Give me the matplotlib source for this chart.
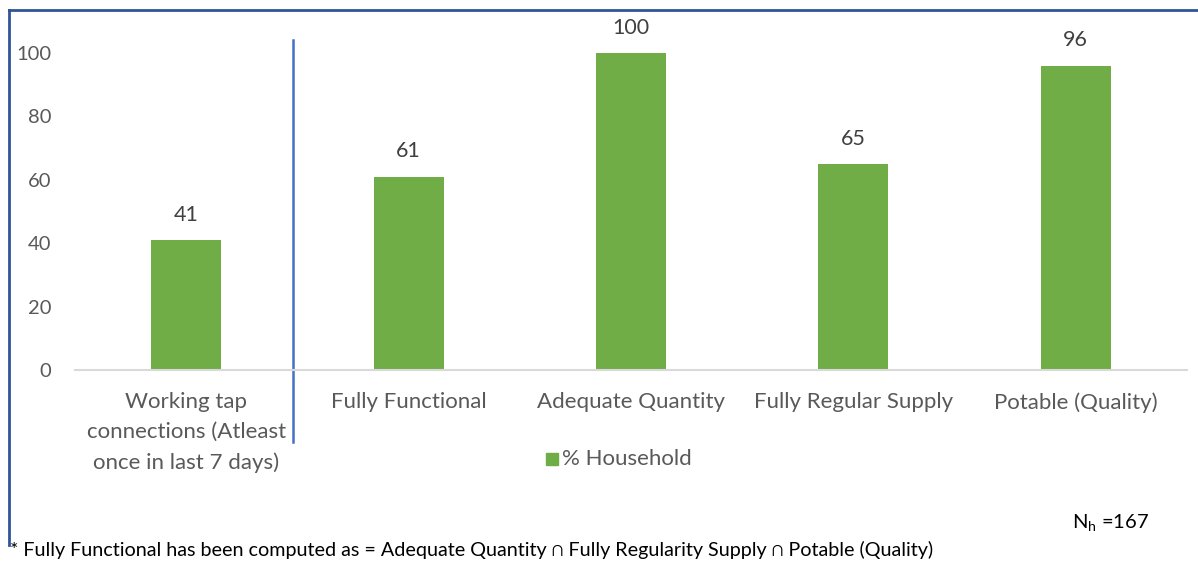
import matplotlib
matplotlib.use("Agg")
import matplotlib.pyplot as plt
from matplotlib.lines import Line2D
from matplotlib.patches import Rectangle

categories = ["Working tap\nconnections (Atleast\nonce in last 7 days)",
              "Fully Functional", "Adequate Quantity",
              "Fully Regular Supply", "Potable (Quality)"]
values = [41, 61, 100, 65, 96]
yticks = [0, 20, 40, 60, 80, 100]
series_name = "% Household"
footnote = "* Fully Functional has been computed as = Adequate Quantity \u2229 Fully Regularity Supply \u2229 Potable (Quality)"
n_label = r"N$_\mathregular{h}$ =167"

plt.rcParams['font.family'] = ['Lato', 'DejaVu Sans']
W, H = 1198, 561
fig = plt.figure(figsize=(W/100, H/100), dpi=100)
ax = fig.add_axes([75/W, 1-370/H, (1187-75)/W, (370-53)/H])

green = "#70AD47"
x = list(range(len(values)))
ax.bar(x, values, width=0.315, color=green)
ax.set_xlim(-0.5, len(values)-0.5)
ax.set_ylim(0, 100)
ax.set_yticks(yticks)
ax.set_yticklabels([str(t) for t in yticks], fontsize=14.5, color="#595959")
ax.set_xticks(x)
ax.set_xticklabels(categories, fontsize=16, color="#595959", linespacing=1.62)
ax.tick_params(axis='both', length=0)
ax.tick_params(axis='x', pad=16)
ax.tick_params(axis='y', pad=17)
for s in ['top', 'right', 'left']:
    ax.spines[s].set_visible(False)
ax.spines['bottom'].set_color("#D9D9D9")
ax.spines['bottom'].set_linewidth(1.5)

for xi, v in zip(x, values):
    ax.annotate(str(v), (xi, v), xytext=(0, 11), textcoords='offset points',
                ha='center', va='bottom', fontsize=15.5, color="#404040",
                annotation_clip=False)

# separator line
ax.plot([0.478, 0.478], [104.1, -22.7], color="#4472C4", lw=1.8, clip_on=False)

# legend
fig.patches.append(Rectangle((546/W, 1-465/H), 12/W, 12/H, transform=fig.transFigure,
                             color=green, figure=fig))
fig.text(562/W, 1-459/H, series_name, fontsize=16, color="#595959", va='center', ha='left')

# frame
frame_c = "#2F5597"
fig.add_artist(Line2D([9/W, 1.0], [1-10/H, 1-10/H], color=frame_c, lw=2))
fig.add_artist(Line2D([9/W, 9/W], [1-10/H, 1-545/H], color=frame_c, lw=2))

fig.text(1072/W, 1-523/H, n_label, fontsize=14.5, color="black", va='center', ha='left')
fig.text(10/W, 1-550/H, footnote, fontsize=14.2, color="black", va='center', ha='left')

fig.savefig("out.png", dpi=100)
